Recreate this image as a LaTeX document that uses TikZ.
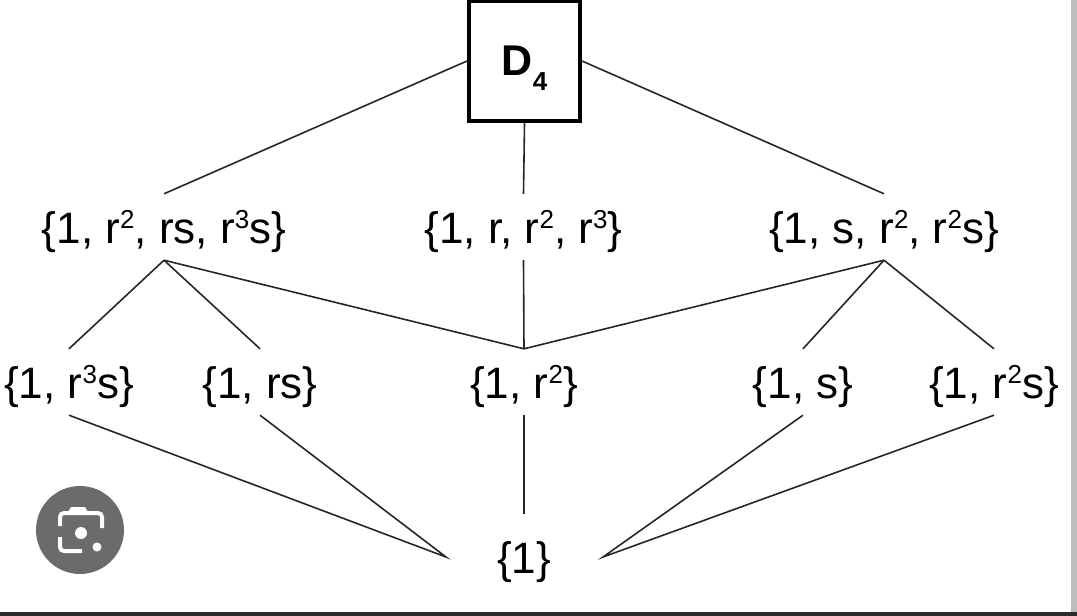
\documentclass[tikz,border=0pt]{standalone}
\usepackage{fontspec}
\setmainfont{Liberation Sans}
\newcommand\supx[1]{\raisebox{15pt}{\fontsize{26}{26}\selectfont #1}}
\definecolor{iconbg}{HTML}{6B6B6B}
\definecolor{barbot}{HTML}{2B2B30}
\definecolor{barright}{HTML}{BDBDBD}
\begin{document}
\begin{tikzpicture}[x=1pt,y=-1pt,
  lbl/.style={font=\fontsize{44}{44}\selectfont, anchor=base, text height=32pt, text depth=0pt, inner ysep=17pt, inner xsep=0pt},
  edge/.style={line width=1.6pt, draw=black!85},
  topbox/.style={draw, line width=4pt, minimum width=111pt, minimum height=120pt, inner sep=0pt,
    text height=28pt, text depth=0pt, font=\fontsize{43}{43}\selectfont\bfseries}
]
\useasboundingbox (0,0) rectangle (1077,616);
\fill[barright] (1071,0) rectangle (1077,612);
\fill[barbot] (0,612) rectangle (1077,616);

% top
\node[topbox] (D4) at (524.5,61) {D\raisebox{-15pt}{\fontsize{26}{26}\selectfont\bfseries 4}};

% level 1
\node[lbl] (a1) at (164,243) {\{1, r\supx{2}, rs, r\supx{3}s\}};
\node[lbl] (a2) at (523.5,243) {\{1, r, r\supx{2}, r\supx{3}\}};
\node[lbl] (a3) at (884,243) {\{1, s, r\supx{2}, r\supx{2}s\}};

% level 2
\node[lbl] (b1) at (69,398) {\{1, r\supx{3}s\}};
\node[lbl] (b2) at (260,398) {\{1, rs\}};
\node[lbl] (b3) at (524,398) {\{1, r\supx{2}\}};
\node[lbl] (b4) at (803,398) {\{1, s\}};
\node[lbl] (b5) at (994,398) {\{1, r\supx{2}s\}};

% bottom
\node[lbl, text height=42pt] (c) at (524,573) {\{1\}};
\coordinate (cl) at (446,557);
\coordinate (cr) at (603,557);

% connectors
\draw[edge] (D4.west) -- (a1.north);
\draw[edge] (D4.south) -- (a2.north);
\draw[edge] (D4.east) -- (a3.north);
\draw[edge] (a1.south) -- (b1.north);
\draw[edge] (a1.south) -- (b2.north);
\draw[edge] (a1.south) -- (b3.north);
\draw[edge] (a2.south) -- (b3.north);
\draw[edge] (a3.south) -- (b3.north);
\draw[edge] (a3.south) -- (b4.north);
\draw[edge] (a3.south) -- (b5.north);
\draw[edge] (b1.south) -- (cl) -- (b2.south);
\draw[edge] (b3.south) -- (c.north);
\draw[edge] (b4.south) -- (cr) -- (b5.south);

% lens icon
\fill[iconbg] (80,530) circle (44);
\draw[white, line width=4pt, rounded corners=4pt]
  (60,526) -- (60,513) -- (102,513) -- (102,528);
\fill[white] (68,512) -- (71,507) -- (85,507) -- (88,512) -- cycle;
\draw[white, line width=4pt, rounded corners=4pt] (60,537) -- (60,551) -- (82,551);
\fill[white] (81,533) circle (6);
\fill[white] (97,547) circle (4.5);
\end{tikzpicture}
\end{document}
